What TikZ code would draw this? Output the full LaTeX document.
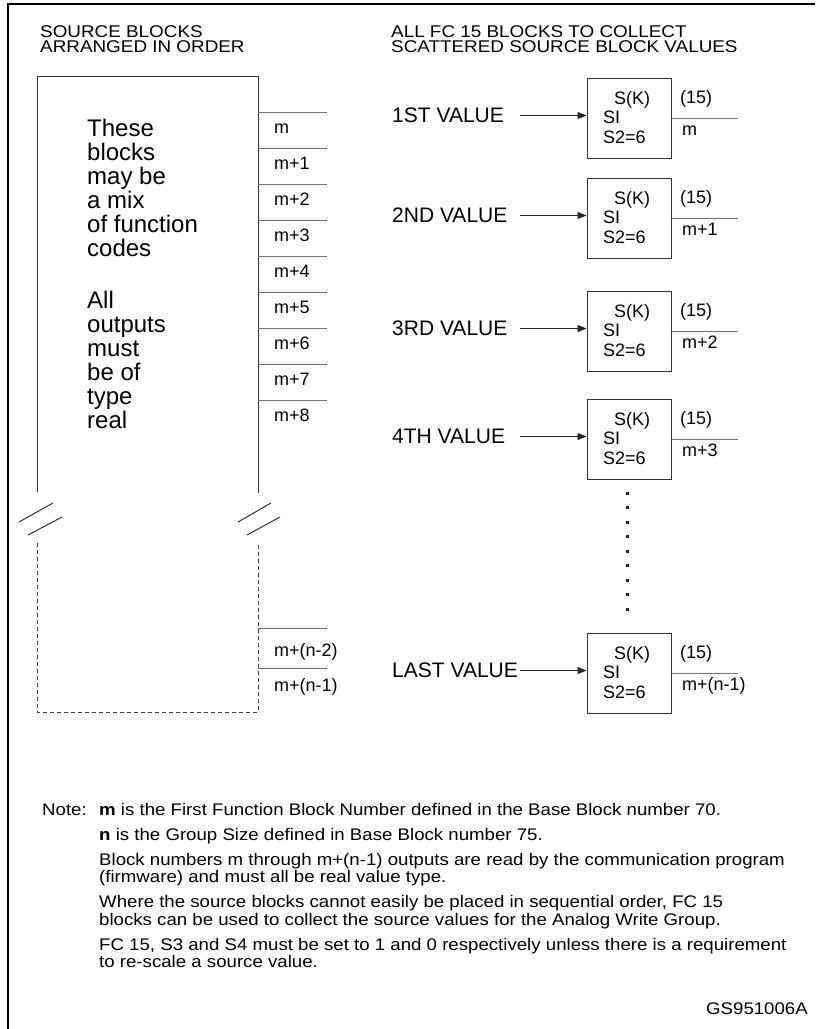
\documentclass[tikz,border=0pt]{standalone}
\usepackage{fontspec}
\setmainfont{Liberation Sans}
\newfontfamily\stretchfont[FakeStretch=1.11]{Liberation Sans}
\usetikzlibrary{arrows.meta}
\tikzset{
  frame/.style={line width=2pt, black},
  bigline/.style={line width=1pt, black!80},
  dashline/.style={line width=0.9pt, black!75, dash pattern=on 4pt off 3pt},
  outln/.style={line width=1pt, black!55},
  fcbox/.style={draw=black!80, line width=1pt, minimum width=84pt, minimum height=80pt, inner sep=0pt},
  arr/.style={-{Triangle[length=9pt,width=7pt]}, line width=0.9pt, black!85},
  ttl/.style={anchor=base west, inner sep=0pt, font=\stretchfont\fontsize{17}{15.5}\selectfont},
  intext/.style={anchor=base west, inner sep=0pt, font=\fontsize{24}{24}\selectfont},
  olbl/.style={anchor=base west, inner sep=0pt, font=\fontsize{18}{18}\selectfont},
  btxt/.style={inner sep=0pt, font=\fontsize{18}{18}\selectfont},
  vlbl/.style={anchor=base west, inner sep=0pt, font=\fontsize{21}{21}\selectfont},
  note/.style={anchor=base west, inner sep=0pt, font=\stretchfont\fontsize{16.8}{17.5}\selectfont},
}
\newcommand\fcblock[4]{%
  \node[fcbox] (#1) at (629,#2) {};
  \node[vlbl] (#1v) at (392,#2+4.3) {#3};
  \coordinate (#1s) at (520,#2-2.5);
  \draw[arr] (#1s) -- (#1s -| #1.west);
  \node[btxt, anchor=base] (#1k) at (632,#2-13.5) {S(K)};
  \node[btxt, anchor=base west] (#1i) at (603,#2+5.5) {SI};
  \node[btxt, anchor=base west] (#1e) at (603,#2+25.5) {S2=6};
  \node[btxt, anchor=base west] (#1f) at (680,#2-14.5) {(15)};
  \coordinate (#1o) at (738,#2);
  \draw[outln] (#1.east) -- (#1o);
  \node[btxt, anchor=base west] (#1m) at (682,#2+17.5) {#4};
}
\begin{document}
\begin{tikzpicture}[x=1pt,y=-1pt]
\useasboundingbox (0,0) rectangle (815,1029);
% frame
\draw[frame] (815,4) -- (8,4) -- (8,1029);
% titles
\node[ttl] (tl1) at (40,37.3) {SOURCE BLOCKS};
\node[ttl] (tl2) at (40,52.8) {ARRANGED IN ORDER};
\node[ttl] (tr1) at (391,37.3) {ALL FC 15 BLOCKS TO COLLECT};
\node[ttl] (tr2) at (391,52.8) {SCATTERED SOURCE BLOCK VALUES};
% big source box
\draw[bigline] (37,492) -- (37,76.5) -- (258,76.5) -- (258,493);
\draw[dashline] (37,543) -- (37,712) -- (258,712) -- (258,543);
\draw[bigline] (19,522) -- (53,503);
\draw[bigline] (28,535) -- (62,517);
\draw[bigline] (238,522) -- (271,503);
\draw[bigline] (247,535) -- (280,517);
% text inside box
\foreach \t [count=\i from 0] in {These,blocks,may be,a mix,of function,codes}
  \node[intext] (pa\i) at (87,136+24*\i) {\t};
\foreach \t [count=\i from 0] in {All,outputs,must,be of,type,real}
  \node[intext] (pb\i) at (87,308+24*\i) {\t};
% output lines
\foreach \k in {0,...,8}
  \draw[outln] (258,112+36*\k) -- (327,112+36*\k);
\foreach \t [count=\k from 0] in {m,m+1,m+2,m+3,m+4,m+5,m+6,m+7,m+8}
  \node[olbl] (o\k) at (274,133+36*\k) {\t};
\draw[outln] (258,628) -- (327,628);
\draw[outln] (258,668) -- (327,668);
\node[olbl] (on2) at (274,656.5) {m+(n-2)};
\node[olbl] (on1) at (274,691.5) {m+(n-1)};
% FC 15 blocks
\fcblock{b1}{118}{1ST VALUE}{m}
\fcblock{b2}{218}{2ND VALUE}{m+1}
\fcblock{b3}{331}{3RD VALUE}{m+2}
\fcblock{b4}{439}{4TH VALUE}{m+3}
\fcblock{b5}{673}{LAST VALUE}{m+(n-1)}
% dots
\foreach \k in {0,...,8}
  \fill[black!85] (625.5,491.5+14.5*\k) rectangle ++(3.2,3.2);
% notes
\node[note] (n0) at (42,815) {Note:};
\node[note] (n1) at (99,815) {\textbf{m} is the First Function Block Number defined in the Base Block number 70.};
\node[note] (n2) at (99,840) {\textbf{n} is the Group Size defined in Base Block number 75.};
\node[note] (n3) at (99,865) {Block numbers m through m+(n-1) outputs are read by the communication program};
\node[note] (n4) at (99,882.5) {(firmware) and must all be real value type.};
\node[note] (n5) at (99,907.5) {Where the source blocks cannot easily be placed in sequential order, FC 15};
\node[note] (n6) at (99,925) {blocks can be used to collect the source values for the Analog Write Group.};
\node[note] (n7) at (99,950) {FC 15, S3 and S4 must be set to 1 and 0 respectively unless there is a requirement};
\node[note] (n8) at (99,967.5) {to re-scale a source value.};
\node[note, anchor=base east] (gs) at (808,1014) {GS951006A};
\end{tikzpicture}
\end{document}
